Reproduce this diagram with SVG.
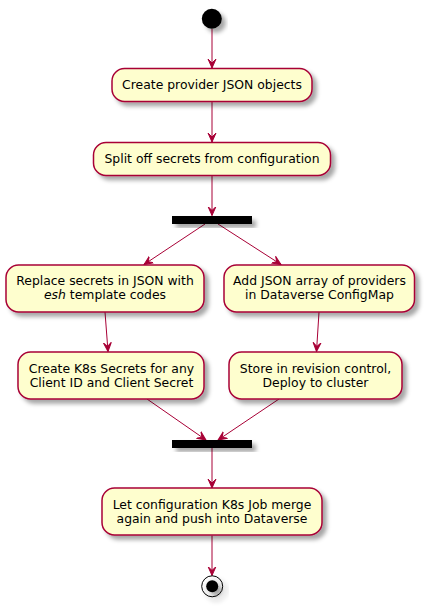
<svg xmlns="http://www.w3.org/2000/svg" width="425" height="606" viewBox="0 0 425 606">
<style>
.act{fill:#FEFECE;stroke:#A80036;stroke-width:1.5;filter:url(#sh)}
.bar{fill:#000;filter:url(#sh)}
.t{font-family:"DejaVu Sans","Noto Sans",sans-serif;font-size:12.4px;fill:#000;text-anchor:middle}
.c{stroke:#A80036;stroke-width:1;fill:none}
</style>
<defs>
<filter id="sh" x="-20%" y="-20%" width="150%" height="170%">
<feDropShadow dx="4" dy="4" stdDeviation="2" flood-color="#000" flood-opacity="0.35"/>
</filter>
<marker id="ah" viewBox="0 0 10 10" refX="9" refY="5" markerWidth="10" markerHeight="10" markerUnits="userSpaceOnUse" orient="auto">
<path d="M0,1 L9,5 L0,9 L4,5 Z" fill="#A80036" stroke="#A80036" stroke-width="1"/>
</marker>
</defs>
<g id="connectors">
<line class="c" x1="212" y1="29" x2="212" y2="68" marker-end="url(#ah)"/>
<line class="c" x1="212" y1="101.5" x2="212" y2="142" marker-end="url(#ah)"/>
<line class="c" x1="212" y1="175.5" x2="212" y2="215.5" marker-end="url(#ah)"/>
<line class="c" x1="205" y1="224" x2="144" y2="264.5" marker-end="url(#ah)"/>
<line class="c" x1="218" y1="224" x2="281" y2="264.5" marker-end="url(#ah)"/>
<line class="c" x1="105" y1="312" x2="108" y2="351.5" marker-end="url(#ah)"/>
<line class="c" x1="319" y1="312" x2="316.5" y2="351.5" marker-end="url(#ah)"/>
<line class="c" x1="147" y1="399" x2="206" y2="440" marker-end="url(#ah)"/>
<line class="c" x1="279" y1="399" x2="218" y2="440" marker-end="url(#ah)"/>
<line class="c" x1="212" y1="448" x2="212" y2="488" marker-end="url(#ah)"/>
<line class="c" x1="212" y1="535.5" x2="212" y2="575.5" marker-end="url(#ah)"/>
</g>
<g id="start">
<circle cx="211.8" cy="18.7" r="10" fill="#000" filter="url(#sh)"/>
</g>
<g id="create-provider">
<rect class="act" x="112" y="68.5" width="200" height="33" rx="12.5" ry="12.5"/>
<text class="t" x="212" y="89">Create provider JSON objects</text>
</g>
<g id="split-off">
<rect class="act" x="93.5" y="142.5" width="237" height="33" rx="12.5" ry="12.5"/>
<text class="t" x="212" y="162.7">Split off secrets from configuration</text>
</g>
<g id="fork1">
<rect class="bar" x="172" y="216" width="80" height="8"/>
</g>
<g id="replace-secrets">
<rect class="act" x="6" y="265" width="198" height="47" rx="12.5" ry="12.5"/>
<text class="t" x="105" y="285">Replace secrets in JSON with</text>
<text class="t" x="105" y="299"><tspan font-style="italic">esh</tspan> template codes</text>
</g>
<g id="add-json">
<rect class="act" x="224" y="265" width="190.5" height="47" rx="12.5" ry="12.5"/>
<text class="t" x="319.5" y="285">Add JSON array of providers</text>
<text class="t" x="319.5" y="299">in Dataverse ConfigMap</text>
</g>
<g id="create-k8s-secrets">
<rect class="act" x="18" y="352" width="186" height="47" rx="12.5" ry="12.5"/>
<text class="t" x="111.5" y="373">Create K8s Secrets for any</text>
<text class="t" x="111.5" y="387">Client ID and Client Secret</text>
</g>
<g id="store-revision">
<rect class="act" x="229" y="352" width="173" height="47" rx="12.5" ry="12.5"/>
<text class="t" x="315.5" y="373">Store in revision control,</text>
<text class="t" x="315.5" y="387">Deploy to cluster</text>
</g>
<g id="join1">
<rect class="bar" x="172" y="440" width="80" height="8"/>
</g>
<g id="merge-job">
<rect class="act" x="102" y="488" width="220" height="47" rx="12.5" ry="12.5"/>
<text class="t" x="212" y="509">Let configuration K8s Job merge</text>
<text class="t" x="212" y="523">again and push into Dataverse</text>
</g>
<g id="end" filter="url(#sh)">
<circle cx="212.2" cy="586.3" r="10.5" fill="none" stroke="#000" stroke-width="1"/>
<circle cx="212.2" cy="586.3" r="6" fill="#000"/>
</g>
</svg>
